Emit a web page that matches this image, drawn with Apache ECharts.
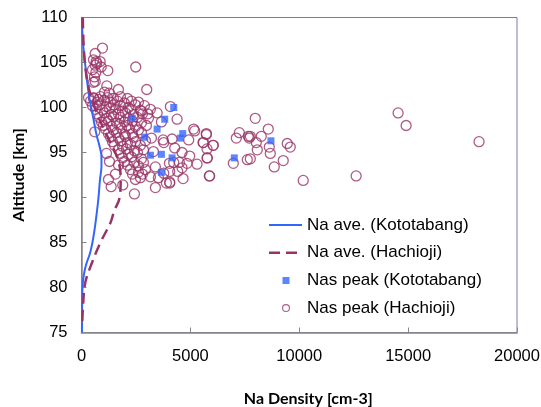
<!DOCTYPE html>
<html lang="en">
<head>
    <meta charset="UTF-8">
    <title>Na density profile</title>
    <style>
        body { margin: 0; background: #fff; }
        .mychart { width: 541px; height: 407px; }
    </style>
</head>
<body>
    <div class="mychart"></div>
</body>
<script src="https://cdn.jsdelivr.net/npm/echarts@6/dist/echarts.min.js"></script>
<script>
    // x ticks / y ticks
    const xTicks = [0, 5000, 10000, 15000, 20000]
    const yTicks = [75, 80, 85, 90, 95, 100, 105, 110]

    // average profile, Kototabang  [density, altitude]
    const aveKototabang = [
        [20, 110], [46, 108], [115, 106], [183, 104.5], [252, 103], [367, 101],
        [527, 99], [688, 97], [849, 95.5], [917, 94.5], [917, 93.5], [849, 92],
        [780, 90], [711, 88.5], [573, 86], [413, 84], [206, 82.5], [115, 81.5],
        [60, 80.5], [32, 79], [25, 77], [20, 75]
    ]

    // average profile, Hachioji
    const aveHachioji = [
        [60, 110], [80, 108], [120, 106], [200, 104], [350, 102], [600, 100],
        [950, 98], [1350, 96], [1700, 94], [1800, 92], [1750, 90], [1500, 88.5],
        [1330, 87.2], [870, 85], [490, 82.8], [180, 80.6], [78, 78.3], [30, 75.7]
    ]

    // Na peak, Kototabang
    const peakKototabang = [
        [4235, 100.0], [3822, 98.7], [4650, 97.1], [4540, 96.6], [3472, 97.6],
        [2904, 96.7], [4160, 94.4], [3670, 94.8], [3165, 94.7], [3670, 92.8],
        [7018, 94.4], [8700, 96.3], [2325, 98.8]
    ]

    // Na peak, Hachioji
    const peakHachioji = [
        // outliers
        [14540, 99.4], [14908, 98.0], [18257, 96.2], [12614, 92.4], [10183, 91.9],
        [9265, 94.1], [8853, 93.4], [8670, 94.9], [8624, 95.6], [8073, 95.3],
        [8027, 96.1], [7614, 94.2], [6972, 93.8], [5871, 92.4], [5780, 94.4],
        [6055, 95.8], [5596, 96.1], [5734, 97.0], [7110, 96.6], [7247, 97.2],
        [7660, 96.8], [7706, 96.6], [8257, 96.8], [8578, 97.6], [7981, 98.8],
        [9449, 96.0], [9587, 95.6], [7752, 96.8], [7752, 94.3],
        // middle
        [4082, 100.1], [4389, 98.7], [3670, 98.4], [5152, 97.6], [5199, 97.4],
        [5734, 97.1], [4923, 96.4], [5583, 96.1], [6041, 95.8], [4160, 96.5],
        [3747, 96.4], [3777, 96.1], [4281, 95.5], [4618, 95.0], [4968, 94.6],
        [5765, 94.4], [5306, 93.7], [4847, 93.8], [4495, 93.9], [4235, 93.9],
        [4037, 93.8], [4618, 93.3], [4419, 92.9], [4052, 92.9], [3777, 92.7],
        [5887, 92.4], [4664, 92.1], [4052, 91.7], [3472, 99.4], [3042, 99.3],
        [2738, 99.6], [5765, 95.4],
        // upper left
        [963, 106.6], [628, 106.0], [550, 105.3], [673, 105.1], [856, 105.1],
        [703, 104.9], [628, 104.7], [902, 104.5], [1208, 104.1], [505, 104.2],
        [658, 103.9], [596, 103.4], [550, 102.8], [628, 102.9], [2491, 104.5],
        [1697, 102.0], [2996, 102.0], [1162, 102.4], [1055, 101.7], [1270, 101.6],
        [550, 101.1], [780, 100.9], [610, 97.3],
        // dense cluster
        [321, 101.1], [560, 101.0], [872, 101.2], [1193, 101.1], [1468, 101.0], [1789, 101.2], [2110, 101.0],
        [413, 100.7], [734, 100.6], [1055, 100.8], [1330, 100.6], [1651, 100.7], [1972, 100.5], [2294, 100.7], [2615, 100.6],
        [505, 100.2], [826, 100.3], [1147, 100.1], [1468, 100.3], [1789, 100.2], [2156, 100.0], [2477, 100.3], [2890, 100.2],
        [642, 99.8], [963, 99.7], [1284, 99.9], [1560, 99.8], [1881, 99.6], [2248, 99.8], [2706, 99.7], [3165, 99.8],
        [734, 99.3], [1055, 99.4], [1376, 99.2], [1697, 99.3], [2018, 99.4], [2385, 99.2], [2798, 99.3],
        [826, 98.9], [1147, 98.8], [1468, 99.0], [1789, 98.9], [2156, 98.8], [2569, 98.9], [3073, 98.8],
        [917, 98.4], [1238, 98.5], [1605, 98.3], [1972, 98.4], [2339, 98.5], [2752, 98.3],
        [1009, 98.0], [1376, 97.9], [1743, 98.1], [2110, 98.0], [2477, 97.9], [2982, 98.0],
        [1101, 97.6], [1468, 97.5], [1835, 97.7], [2202, 97.6], [2615, 97.5],
        [1238, 97.1], [1605, 97.2], [1972, 97.0], [2339, 97.1], [2752, 97.2],
        [1330, 96.7], [1697, 96.6], [2018, 96.8], [2385, 96.7], [3211, 96.6],
        [1422, 96.2], [1789, 96.3], [2110, 96.1], [2477, 96.2], [2936, 96.3],
        [1514, 95.8], [1881, 95.7], [2248, 95.9], [2706, 95.8],
        [1697, 95.3], [2064, 95.4], [2431, 95.2], [2844, 95.3],
        [1789, 94.9], [2156, 94.8], [2569, 95.0], [1147, 94.9],
        [1881, 94.4], [2294, 94.5], [2752, 94.3], [3303, 95.1],
        [1972, 94.0], [2431, 93.9], [1284, 94.0], [1697, 93.6],
        [2110, 93.6], [2615, 93.5], [2844, 93.9], [3165, 92.3],
        [2248, 93.1], [2936, 93.1], [3394, 93.4], [3532, 92.2],
        [1560, 92.6], [2339, 92.6], [2798, 92.6], [3899, 91.6],
        [1238, 92.0], [2477, 92.0], [2706, 92.2], [2615, 92.8],
        [1362, 91.2], [1895, 91.4], [2431, 90.4], [3394, 91.1], [4052, 91.6]
    ]

    const maroon = '#993366'
    const blue = '#3366ff'
    const tickFont = { fontFamily: 'Liberation Sans', fontSize: 16.5, color: '#000' }
    const titleFont = { fontFamily: 'Lato', fontWeight: 'bold', fontSize: 16, color: '#000' }

    // legend icons, 33x20 box (tiny corner dots keep the box size)
    const box = ' M0,0 h0.01 v0.01 h-0.01 z M32.99,19.99 h0.01 v0.01 h-0.01 z'
    const iconSolid = 'path://M0,9 h33 v2 h-33 z' + box
    const iconDash = 'path://M0,8.8 h11 v2.6 h-11 z M17,8.8 h11 v2.6 h-11 z' + box
    const iconSquare = 'path://M13.5,6.5 h7 v7 h-7 z' + box
    // ring: outer r=4, inner r=2.9 drawn the other way round
    const iconCircle = 'path://M21,10 a4,4 0 1,0 -8,0 a4,4 0 1,0 8,0 z M19.9,10 a2.9,2.9 0 1,1 -5.8,0 a2.9,2.9 0 1,1 5.8,0 z' + box

    const myChart = echarts.init(document.querySelector('.mychart'))

    const config = {
        animation: false,
        grid: {
            left: 81.5, top: 17.5, right: 24, bottom: 74.5, outerBoundsMode: 'none',
            show: true, borderColor: '#7a7aa6', borderWidth: 1
        },
        legend: {
            orient: 'vertical',
            left: 264, top: 210,
            itemGap: 7.7,
            itemWidth: 33, itemHeight: 20,
            textStyle: { fontFamily: 'Liberation Sans', fontSize: 17, color: '#000' },
            data: [
                { name: 'Na ave. (Kototabang)', icon: iconSolid, itemStyle: { color: blue, borderWidth: 0 } },
                { name: 'Na ave. (Hachioji)', icon: iconDash, itemStyle: { color: maroon, borderWidth: 0 } },
                { name: 'Nas peak (Kototabang)', icon: iconSquare, itemStyle: { color: blue, borderWidth: 0 } },
                { name: 'Nas peak (Hachioji)', icon: iconCircle, itemStyle: { color: maroon, borderWidth: 0 } }
            ]
        },
        xAxis: {
            type: 'value', min: xTicks[0], max: xTicks[xTicks.length - 1], interval: 5000,
            name: 'Na Density [cm-3]', nameLocation: 'middle', nameGap: 58,
            nameTextStyle: Object.assign({ padding: [0, 0, 0, 18] }, titleFont),
            axisLine: { lineStyle: { color: '#868686', width: 1.5 } },
            axisTick: { inside: true, length: 5, lineStyle: { color: '#868686' } },
            axisLabel: Object.assign({ margin: 15, formatter: v => String(v) }, tickFont),
            splitLine: { show: false }
        },
        yAxis: {
            type: 'value', min: yTicks[0], max: yTicks[yTicks.length - 1], interval: 5,
            name: 'Altitude [km]', nameLocation: 'middle', nameGap: 55, nameRotate: 90,
            nameTextStyle: titleFont,
            axisLine: { lineStyle: { color: '#868686', width: 1.5 } },
            axisTick: { inside: true, length: 5, lineStyle: { color: '#868686' } },
            axisLabel: Object.assign({ margin: 14 }, tickFont),
            splitLine: { show: false }
        },
        series: [
            {
                name: 'Nas peak (Hachioji)', type: 'scatter', data: peakHachioji,
                symbol: 'circle', symbolSize: 10,
                itemStyle: { color: 'rgba(255,255,255,0)', borderColor: maroon, borderWidth: 1.3 }
            },
            {
                name: 'Nas peak (Kototabang)', type: 'scatter', data: peakKototabang,
                symbol: 'rect', symbolSize: 7,
                itemStyle: { color: blue }
            },
            {
                name: 'Na ave. (Kototabang)', type: 'line', data: aveKototabang,
                smooth: 0.4, showSymbol: false, symbol: 'none',
                lineStyle: { color: blue, width: 2 }, itemStyle: { color: blue }
            },
            {
                name: 'Na ave. (Hachioji)', type: 'line', data: aveHachioji,
                smooth: 0.4, showSymbol: false, symbol: 'none',
                lineStyle: { color: maroon, width: 2.5, type: [11, 6] }, itemStyle: { color: maroon }
            }
        ]
    }

    myChart.setOption(config)
</script>
</html>
